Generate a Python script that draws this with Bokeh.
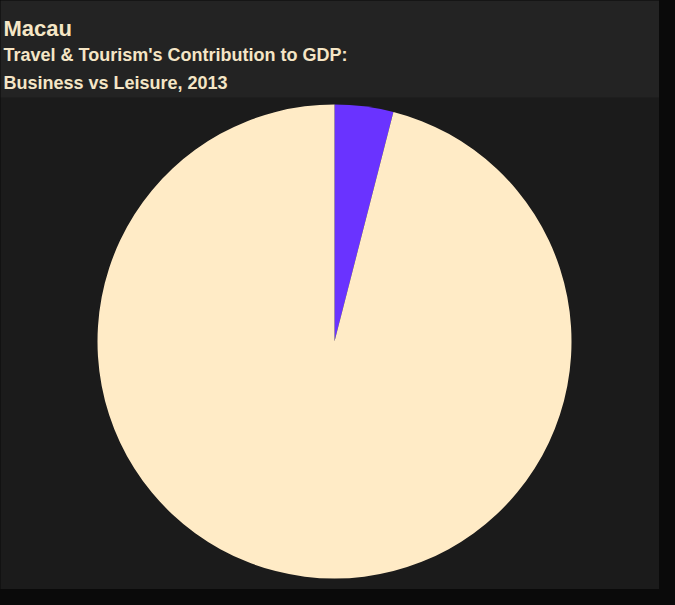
import math
from bokeh.plotting import figure
from bokeh.models import Range1d, ColumnDataSource
from bokeh.core.properties import value
from bokeh.embed import file_html
from bokeh.resources import INLINE

# ---- data ----
categories = ["Business", "Leisure"]
shares = [4.0, 96.0]
colors = ["#6a33ff", "#ffebc6"]
title_lines = ["Macau", "Travel & Tourism's Contribution to GDP:", "Business vs Leisure, 2013"]

W, H = 659, 589
p = figure(width=W, height=H, output_backend="svg", toolbar_location=None,
           x_range=Range1d(0, W), y_range=Range1d(0, H),
           x_axis_type=None, y_axis_type=None, min_border=0)
p.grid.visible = False
p.outline_line_color = None
p.background_fill_color = "#1b1b1b"
p.border_fill_color = "#1b1b1b"

# title band
p.quad(left=[0], right=[W], top=[H], bottom=[H - 97], fill_color="#232323", line_color=None)

# pie
total = sum(shares)
starts, ends = [], []
cum = 0.0
for s in shares:
    starts.append(math.pi / 2 - 2 * math.pi * cum / total)
    cum += s
    ends.append(math.pi / 2 - 2 * math.pi * cum / total)
src = ColumnDataSource(dict(cat=categories, share=shares, color=colors, start=starts, end=ends))
p.wedge(x=334, y=H - 341, radius=237, start_angle="start", end_angle="end",
        direction="clock", fill_color="color", line_color=None, source=src)

# titles
ys = [H - 27.5, H - 54.3, H - 82.7]
sizes = ["22px", "18px", "18px"]
for t, y, sz in zip(title_lines, ys, sizes):
    p.text(x=[3], y=[y], text=[t], text_font=value("Liberation Sans"), text_font_size=sz,
           text_font_style="bold", text_color="#f5e6c6", text_baseline="alphabetic",
           text_align="left")

html = file_html(p, INLINE)
html = html.replace("<head>", "<head><style>body{background:#0a0a0a;}</style>", 1)
open("out.html", "w").write(html)
